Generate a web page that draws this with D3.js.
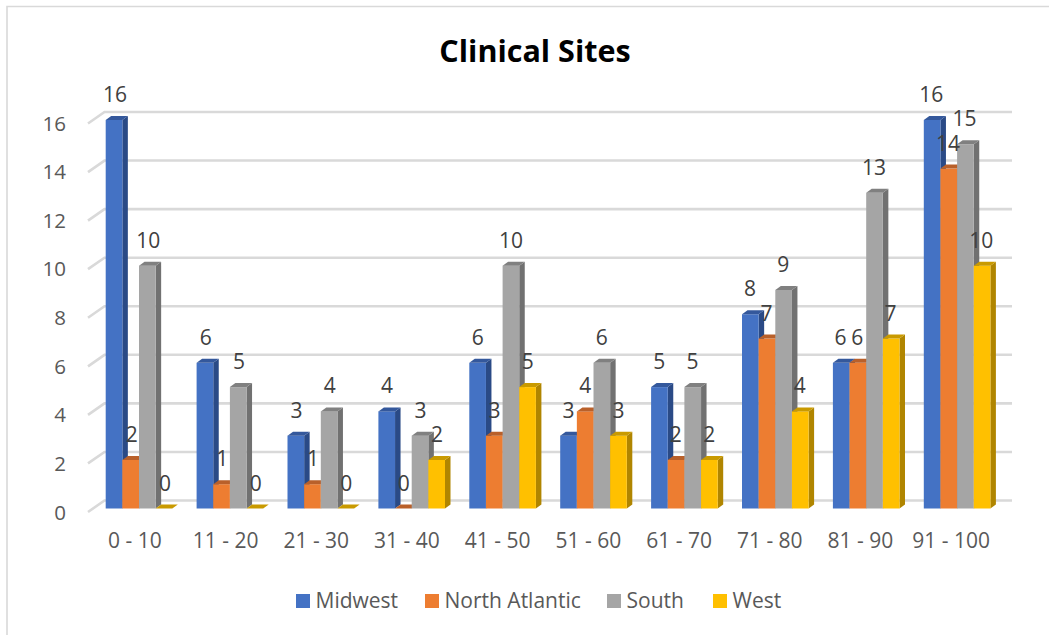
<!DOCTYPE html>
<html>
<head>
<meta charset="utf-8">
<script src="https://cdn.jsdelivr.net/npm/d3@7"></script>
<style>
  html, body { margin: 0; padding: 0; background: #fff; }
  svg { display: block; font-family: "Open Sans", sans-serif; }
</style>
</head>
<body>
<svg id="chart" width="1049" height="635"></svg>
<script>
// Chart data
const categories = ["0 - 10", "11 - 20", "21 - 30", "31 - 40", "41 - 50", "51 - 60", "61 - 70", "71 - 80", "81 - 90", "91 - 100"];
const seriesNames = ["Midwest", "North Atlantic", "South", "West"];
const midwest = [16, 6, 3, 4, 6, 3, 5, 8, 6, 16];
const northAtlantic = [2, 1, 1, 0, 3, 4, 2, 7, 6, 14];
const south = [10, 5, 4, 3, 10, 6, 5, 9, 13, 15];
const west = [0, 0, 0, 2, 5, 3, 2, 4, 7, 10];
const yTicks = [0, 2, 4, 6, 8, 10, 12, 14, 16];

const seriesValues = [midwest, northAtlantic, south, west];
const frontColors = ["#4472c4", "#ed7d31", "#a5a5a5", "#ffc000"];
const sideColors = ["#2a4a86", "#a85620", "#717171", "#b08500"];
const topColors = ["#34589c", "#b9602a", "#808080", "#c99a00"];

const svg = d3.select("#chart");

// Fake 3D offsets: bar depth and the floor depth of the back wall
const barDX = 5.5, barDY = 4;
const wallDX = 16.5, wallDY = 11.5;

const y = d3.scaleLinear().domain([0, 16]).range([508.5, 120]);
const x = d3.scaleBand().domain(categories).range([89.5, 998.5]).padding(0);
const xLabels = x.copy().range([89.5, 996.5]);
const bandInner = d3.scaleBand().domain(d3.range(4)).range([16.2, 82.8]);

// chart frame, only the top and left edges show in the reference
svg.append("path")
    .attr("d", "M7,635 V6.5 H1049")
    .attr("fill", "none").attr("stroke", "#d9d9d9").attr("stroke-width", 1.6);

// Title
svg.append("text")
    .attr("x", 535).attr("y", 62)
    .attr("text-anchor", "middle")
    .attr("font-size", 30.5).attr("font-weight", 700)
    .attr("fill", "#000")
    .text("Clinical Sites");

// Gridlines on the back wall with the slanted part on the side wall
const grid = svg.append("g").attr("fill", "none").attr("stroke", "#d9d9d9").attr("stroke-width", 2.6);
yTicks.forEach(t => {
    const yBack = y(t) - wallDY + 3.5;
    grid.append("path")
        .attr("d", `M88,${yBack + wallDY} L${88 + wallDX},${yBack} H1012`);
});

// Y axis labels
const yAxis = d3.axisLeft(y.copy().range([512.5, 123.5]))
    .tickValues(yTicks).tickSize(0).tickPadding(0);
const yG = svg.append("g").attr("transform", "translate(66,0)").call(yAxis);
yG.select(".domain").remove();
yG.selectAll("text").attr("font-size", 20.5).attr("font-family", "Open Sans").attr("fill", "#595959");

// X axis labels
const xAxis = d3.axisBottom(xLabels).tickSize(0).tickPadding(0);
const xG = svg.append("g").attr("transform", "translate(0,533)").call(xAxis);
xG.select(".domain").remove();
xG.selectAll("text").attr("font-size", 21).attr("font-family", "Open Sans").attr("fill", "#595959");

// Bars, left to right so each front hides the side of the previous one
const bars = svg.append("g");
categories.forEach((cat, ci) => {
    seriesValues.forEach((values, si) => {
        const v = values[ci];
        const x0 = x(cat) + bandInner(si);
        const w = bandInner.bandwidth();
        const yTop = y(v), yBase = y(0);
        const g = bars.append("g");
        if (v > 0) {
            g.append("path")
                .attr("fill", sideColors[si])
                .attr("d", `M${x0 + w},${yTop} l${barDX},${-barDY} V${yBase - barDY} L${x0 + w},${yBase} Z`);
            g.append("rect")
                .attr("x", x0).attr("y", yTop).attr("width", w).attr("height", yBase - yTop)
                .attr("fill", frontColors[si]);
        }
        g.append("path")
            .attr("fill", topColors[si])
            .attr("d", `M${x0},${yTop} l${barDX},${-barDY} h${w} l${-barDX},${barDY} Z`);
    });
});

// Data labels on top of everything
const labels = svg.append("g").attr("font-size", 21).attr("fill", "#404040").attr("text-anchor", "middle");
categories.forEach((cat, ci) => {
    seriesValues.forEach((values, si) => {
        labels.append("text")
            .attr("x", xLabels(cat) + bandInner(si) + bandInner.bandwidth() / 2 + 1)
            .attr("y", y(values[ci]) - 18)
            .text(values[ci]);
    });
});

// Legend
const legendX = [296, 425, 607, 713];
const legend = svg.append("g");
seriesNames.forEach((name, i) => {
    legend.append("rect")
        .attr("x", legendX[i]).attr("y", 594).attr("width", 14).attr("height", 14)
        .attr("fill", frontColors[i]);
    legend.append("text")
        .attr("x", legendX[i] + 19.5).attr("y", 608)
        .attr("font-size", 21).attr("fill", "#595959")
        .text(name);
});
</script>
</body>
</html>
